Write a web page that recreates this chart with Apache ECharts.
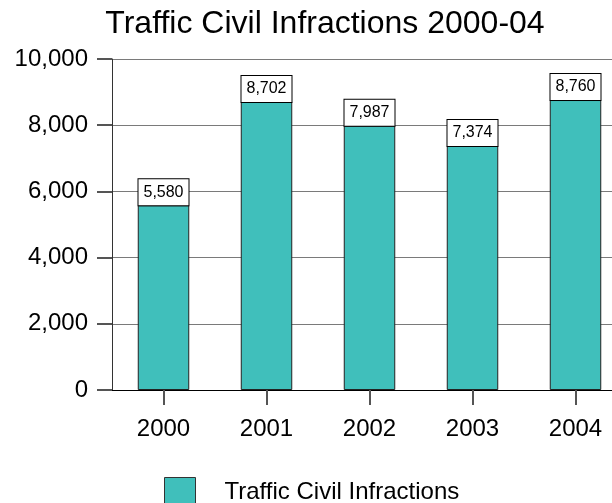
<!DOCTYPE html>
<html><head><meta charset="utf-8">
<script src="https://cdn.jsdelivr.net/npm/echarts@6/dist/echarts.min.js"></script>
<style>html,body{margin:0;padding:0;background:#fff}#c{width:612px;height:503px}</style>
</head><body><div id="c"></div>
<script>
const categories = ['2000','2001','2002','2003','2004'];
const values = [5580, 8702, 7987, 7374, 8760];
const seriesName = 'Traffic Civil Infractions';
const titleText = 'Traffic Civil Infractions 2000-04';

const FONT = 'Arial, "Liberation Sans", sans-serif';
const chart = echarts.init(document.getElementById('c'));
chart.setOption({
  animation:false,
  backgroundColor:'#fff',
  title:{text:titleText,left:320,textAlign:'center',top:3,textStyle:{fontFamily:FONT,fontSize:32,fontWeight:'normal',color:'#000'}},
  legend:{data:[seriesName],left:159,top:472,itemWidth:31,itemHeight:30,icon:'rect',
    itemStyle:{borderColor:'#333',borderWidth:1},
    textStyle:{fontFamily:FONT,fontSize:24,color:'#000',padding:[0,0,0,24]}},
  grid:{left:112,width:515,top:59,height:331,outerBoundsMode:'none'},
  xAxis:{type:'category',data:categories,
    axisLine:{show:true,lineStyle:{color:'#000',width:1}},
    axisTick:{show:true,alignWithLabel:true,length:15,lineStyle:{color:'#555',width:2}},
    axisLabel:{margin:27,fontFamily:FONT,fontSize:24,color:'#000'}},
  yAxis:{type:'value',min:0,max:10000,interval:2000,
    axisLine:{show:true,lineStyle:{color:'#333'}},
    axisTick:{show:true,length:15,lineStyle:{color:'#555',width:2}},
    splitLine:{show:true,lineStyle:{color:'#7a7a7a'}},
    axisLabel:{margin:24,fontFamily:FONT,fontSize:24,color:'#000',
      formatter:v=>v.toLocaleString('en-US')}},
  series:[{name:seriesName,type:'bar',data:values,barWidth:'50%',
    itemStyle:{color:'#40BFBB',borderColor:'#222',borderWidth:1},
    label:{show:true,position:'top',distance:0,fontFamily:FONT,fontSize:16,color:'#000',
      backgroundColor:'#fff',borderColor:'#000',borderWidth:1,width:50,align:'center',
      padding:[5,0,5,0],
      formatter:p=>p.value.toLocaleString('en-US')}}]
});
</script></body></html>
